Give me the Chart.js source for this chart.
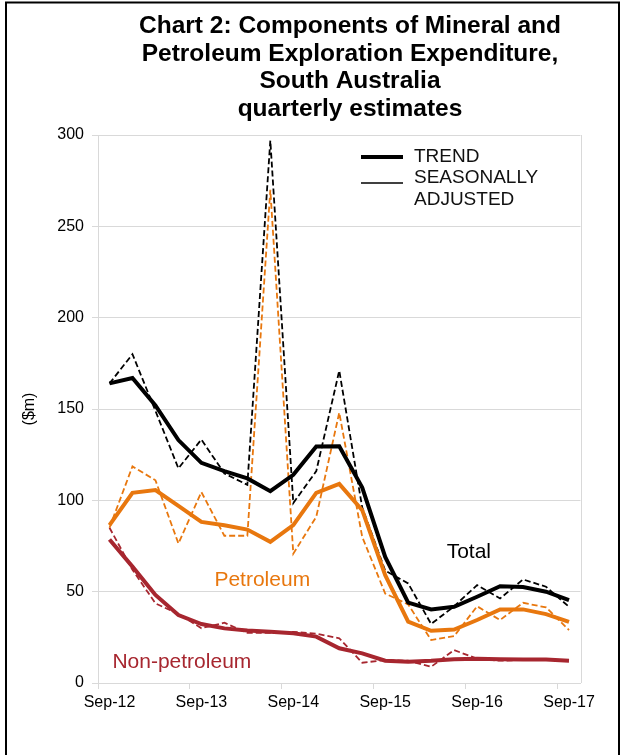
<!DOCTYPE html>
<html lang="en">
<head>
<meta charset="utf-8">
<title>Chart 2: Components of Mineral and Petroleum Exploration Expenditure, South Australia</title>
<script src="https://cdn.jsdelivr.net/npm/chart.js@4.4.0/dist/chart.umd.min.js"></script>
<style>
    html, body { margin: 0; padding: 0; background: #fff; }
    #contenedor { width: 624px; height: 755px; }
</style>
</head>
<body>
<div id="contenedor"><canvas id="grafico" width="624" height="755"></canvas></div>
<script>
// Trimestres (Sep-12 .. Sep-17)
const trimestres = ['Sep-12', 'Dec-12', 'Mar-13', 'Jun-13', 'Sep-13', 'Dec-13', 'Mar-14', 'Jun-14',
    'Sep-14', 'Dec-14', 'Mar-15', 'Jun-15', 'Sep-15', 'Dec-15', 'Mar-16', 'Jun-16',
    'Sep-16', 'Dec-16', 'Mar-17', 'Jun-17', 'Sep-17'];

// Total ($m)
const totalTrend = [164, 167, 152, 133, 120.5, 116, 112, 105, 114, 129.5, 129.6, 107, 69, 44, 40.3, 41.7, 47.2, 53, 52.5, 50, 45.4];
const totalSA = [164, 180, 149, 117.5, 133.3, 114.7, 108.5, 297, 98.5, 116, 171, 96, 61.5, 54.5, 32.3, 42, 53.6, 46.3, 56.7, 52.7, 41.7];

// Petroleum ($m)
const petTrend = [86.4, 104.1, 105.6, 97, 88.2, 86.4, 84, 77.3, 86.4, 104.1, 109, 94.6, 59, 33.6, 28.6, 29.3, 34.5, 40.3, 40.3, 37.7, 33.5];
const petSA = [85, 118.6, 111, 76.4, 104.5, 80.6, 80.6, 270, 70.8, 91, 148, 80, 49, 43, 23.5, 25.7, 42, 34.5, 43.9, 41.4, 29];

// Non-petroleum ($m)
const noPetTrend = [78.6, 63.7, 48.2, 37.2, 32.3, 29.9, 28.7, 28.1, 27.2, 25.4, 19, 16.2, 12.2, 11.7, 12.2, 13, 13.3, 13, 12.8, 12.8, 12.2];
const noPetSA = [85, 62, 43.6, 37.8, 30, 33, 27.5, 27.5, 28, 27, 24.5, 11.1, 12.6, 12.2, 8.9, 18, 13.3, 12.2, 12.6, 12.8, 12.6];

// Eje Y
const yMin = 0, yMax = 300, yPaso = 50;

// Textos
const titulo = ['Chart 2: Components of Mineral and', 'Petroleum Exploration Expenditure,', 'South Australia', 'quarterly estimates'];
const etiquetas = [
    { texto: 'Total', x: 15.64, y: 68.4, color: '#000000' },
    { texto: 'Petroleum', x: 6.65, y: 53.1, color: '#E8770E' },
    { texto: 'Non-petroleum', x: 3.15, y: 8.2, color: '#A7262F' }
];

const NEGRO = '#000000';
const NARANJA = '#E8770E';
const ROJO = '#A7262F';
const GRIS = '#d9d9d9';
const FUENTE = "'Liberation Sans', Arial, sans-serif";

Chart.defaults.font.family = FUENTE;
Chart.defaults.color = '#000';

function serie(datos, color, tendencia) {
    return {
        data: datos,
        borderColor: color,
        backgroundColor: color,
        borderWidth: tendencia ? 4 : 1.8,
        borderDash: tendencia ? [] : [6, 3],
        pointRadius: 0,
        tension: 0,
        fill: false
    };
}

// Titulo, leyenda, etiquetas y marco
const decoracion = {
    id: 'decoracion',
    beforeDraw(chart) {
        const ctx = chart.ctx;
        ctx.save();
        ctx.fillStyle = '#fff';
        ctx.fillRect(0, 0, chart.width, chart.height);
        ctx.restore();
    },
    afterDraw(chart) {
        const { ctx, chartArea, scales } = chart;
        ctx.save();

        // borde derecho del area del grafico
        ctx.strokeStyle = GRIS;
        ctx.lineWidth = 1;
        ctx.beginPath();
        ctx.moveTo(Math.round(chartArea.right) + 0.5, chartArea.top);
        ctx.lineTo(Math.round(chartArea.right) + 0.5, chartArea.bottom);
        ctx.stroke();

        // titulo
        ctx.fillStyle = '#000';
        ctx.font = 'bold 24.5px ' + FUENTE;
        ctx.textAlign = 'center';
        ctx.textBaseline = 'alphabetic';
        titulo.forEach((linea, i) => ctx.fillText(linea, 350, 33 + i * 27.6));

        // leyenda
        ctx.strokeStyle = NEGRO;
        ctx.lineWidth = 4;
        ctx.beginPath();
        ctx.moveTo(361, 157);
        ctx.lineTo(403, 157);
        ctx.stroke();
        ctx.lineWidth = 1.5;
        ctx.beginPath();
        ctx.moveTo(361, 183);
        ctx.lineTo(403, 183);
        ctx.stroke();
        ctx.font = '19px ' + FUENTE;
        ctx.textAlign = 'left';
        ctx.textBaseline = 'middle';
        ctx.fillStyle = '#111';
        ctx.fillText('TREND', 414, 157);
        ctx.fillText('SEASONALLY', 414, 177.5);
        ctx.fillText('ADJUSTED', 414, 199.5);

        // etiquetas de series
        ctx.font = '21px ' + FUENTE;
        ctx.textAlign = 'center';
        ctx.textBaseline = 'alphabetic';
        etiquetas.forEach(e => {
            ctx.fillStyle = e.color;
            ctx.fillText(e.texto, scales.x.getPixelForValue(e.x), scales.y.getPixelForValue(e.y));
        });

        // marco exterior
        ctx.strokeStyle = '#000';
        ctx.lineWidth = 2;
        ctx.strokeRect(6, 2.5, 613, 800);
        ctx.restore();
    }
};

const ctx = document.getElementById('grafico').getContext('2d');
const grafico = new Chart(ctx, {
    type: 'line',
    data: {
        labels: trimestres,
        datasets: [
            serie(totalTrend, NEGRO, true),
            serie(petTrend, NARANJA, true),
            serie(noPetTrend, ROJO, true),
            serie(totalSA, NEGRO, false),
            serie(petSA, NARANJA, false),
            serie(noPetSA, ROJO, false)
        ]
    },
    options: {
        responsive: false,
        animation: false,
        layout: { padding: { left: 20, right: 43.5, top: 135, bottom: 0 } },
        plugins: {
            legend: { display: false },
            tooltip: { enabled: false }
        },
        scales: {
            x: {
                type: 'category',
                offset: true,
                afterFit: s => { s.height = 72; },
                border: { display: true, color: GRIS, width: 1 },
                grid: {
                    offset: true,
                    drawOnChartArea: false,
                    drawTicks: true,
                    tickLength: 6,
                    color: c => (c.index % 4 === 0 ? GRIS : 'rgba(0,0,0,0)')
                },
                ticks: {
                    autoSkip: false,
                    maxRotation: 0,
                    padding: 4,
                    font: { size: 16 },
                    color: '#000',
                    callback: function(valor, i) {
                        return i % 4 === 0 ? this.getLabelForValue(valor) : '';
                    }
                }
            },
            y: {
                min: yMin,
                max: yMax,
                afterFit: s => { s.width = 78; },
                border: { display: true, color: GRIS, width: 1 },
                grid: { color: GRIS, lineWidth: 1, tickLength: 6 },
                ticks: { stepSize: yPaso, padding: 8, font: { size: 16 }, color: '#000' },
                title: { display: true, text: '($m)', font: { size: 16 }, color: '#000', padding: 0 }
            }
        }
    },
    plugins: [decoracion]
});
</script>
</body>
</html>
